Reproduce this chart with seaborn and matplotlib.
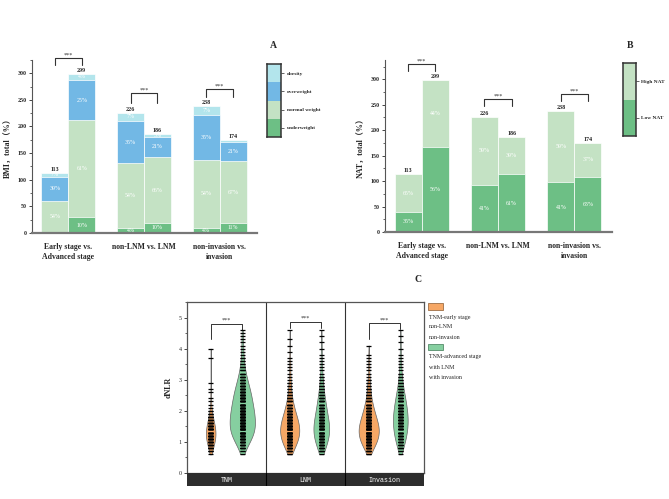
import numpy as np
import pandas as pd
import matplotlib
matplotlib.use('Agg')
import matplotlib.pyplot as plt
import seaborn as sns
from matplotlib.patches import Rectangle
from matplotlib.ticker import MultipleLocator

# ---- data: panels A / B (counts per bar) ----
groups = ['Early stage vs.\nAdvanced stage', 'non-LNM vs. LNM', 'non-invasion vs.\ninvasion']
bar_totals = [113, 299, 226, 186, 238, 174]

bmi_cats = ['underweight', 'normal weight', 'overweight', 'obesity']
underweight = [0, 30, 9, 19, 10, 19]
normal_weight = [61, 182, 122, 123, 128, 116]
overweight = [44, 75, 79, 39, 83, 36]
obesity = [8, 12, 16, 5, 17, 3]

nat_cats = ['Low NAT', 'High NAT']
low_nat = [40, 167, 93, 113, 98, 109]
high_nat = [73, 132, 133, 73, 140, 65]

# ---- data: panel C (dNLR values and how many patients sit at each) ----
facets = ['TNM', 'LNM', 'Invasion']
c_groups = ['early', 'advanced']
dnlr_grid = [0.6, 0.7, 0.8, 0.9, 1.0, 1.1, 1.2, 1.3, 1.4, 1.5, 1.6, 1.7, 1.8, 1.9,
             2.0, 2.1, 2.2, 2.3, 2.4, 2.5, 2.6, 2.7, 2.8, 2.9, 3.0, 3.1, 3.2, 3.3,
             3.4, 3.5, 3.6, 3.7, 3.8, 3.9, 4.0, 4.1, 4.2, 4.3, 4.4, 4.5, 4.6]
tnm_early = [1, 3, 5, 7, 9, 11, 12, 11, 11, 10, 8, 6, 5, 3, 2, 1, 1, 1, 1, 0, 1,
             1, 0, 1, 0, 0, 0, 0, 0, 0, 0, 1, 0, 0, 1, 0, 0, 0, 0, 0, 0]
tnm_adv = [1, 2, 5, 7, 9, 11, 13, 15, 16, 16, 15, 15, 15, 15, 14, 13, 13, 11, 12, 11, 10,
           9, 8, 7, 6, 5, 4, 3, 3, 2, 2, 2, 1, 1, 1, 1, 1, 1, 1, 1, 1]
lnm_no = [2, 5, 8, 11, 13, 15, 16, 17, 17, 16, 15, 14, 12, 10, 9, 7, 6, 5, 4, 3, 3,
          2, 2, 2, 1, 1, 1, 1, 1, 1, 1, 1, 0, 1, 0, 1, 0, 1, 0, 0, 1]
lnm_yes = [1, 4, 6, 8, 9, 10, 11, 12, 12, 12, 11, 10, 9, 8, 8, 7, 6, 6, 5, 4, 4,
           3, 3, 2, 2, 2, 1, 1, 1, 1, 1, 1, 1, 0, 1, 0, 1, 0, 1, 0, 1]
inv_no = [2, 5, 8, 12, 14, 16, 17, 18, 18, 17, 16, 14, 12, 11, 9, 8, 7, 5, 4, 4, 3,
          3, 2, 2, 2, 1, 1, 1, 1, 1, 1, 1, 1, 0, 0, 1, 0, 0, 0, 0, 0]
inv_yes = [1, 2, 4, 5, 6, 7, 8, 9, 9, 9, 10, 10, 10, 9, 9, 8, 8, 7, 6, 6, 5,
           4, 3, 3, 2, 2, 2, 1, 1, 1, 1, 1, 1, 0, 1, 0, 1, 0, 1, 0, 1]

c_orange = '#f6a765'
c_green = '#86cfa0'

sns.set_style('ticks')
plt.rcParams['font.family'] = ['Liberation Serif', 'Noto Sans CJK SC']
plt.rcParams['axes.edgecolor'] = '#555555'

fig = plt.figure(figsize=(6.69, 4.99), dpi=100)


def stacked_panel(ax, layers, names, colors, ylim, ylabel, brackets):
    sides = ['a', 'b'] * 3
    df = pd.DataFrame({'group': np.repeat(groups, 2), 'side': sides})
    cum = np.zeros(6)
    cums = []
    for vals in layers:
        cum = cum + np.array(vals)
        cums.append(cum.copy())
    # draw tallest layer first, smaller layers on top
    for k in range(len(layers) - 1, -1, -1):
        df['v'] = cums[k]
        sns.barplot(data=df, x='group', y='v', hue='side', palette=[colors[k]] * 2,
                    width=0.71, edgecolor='white', linewidth=0.5, saturation=1,
                    errorbar=None, legend=False, ax=ax)
    off = 0.71 / 4
    for i in range(6):
        x = i // 2 + (-off if i % 2 == 0 else off)
        bottom = 0
        for k, vals in enumerate(layers):
            v = vals[i]
            if v >= 5:
                ax.text(x, bottom + v / 2, f'{round(100 * v / bar_totals[i])}%',
                        ha='center', va='center', color='white', fontsize=4.2)
            bottom += v
        ax.text(x, bar_totals[i] + 2, str(bar_totals[i]), ha='center', va='bottom',
                fontsize=4.3, fontweight='bold')
    for gi, (top, l1, l2) in enumerate(brackets):
        ax.plot([gi - off, gi - off, gi + off, gi + off], [l1, top, top, l2],
                color='#333333', lw=0.8, clip_on=False)
        ax.text(gi, top + 1, '***', ha='center', va='bottom', fontsize=4.5, color='#333333')
    ax.set_ylim(*ylim)
    ax.set_xlim(-0.48, 2.49)
    ax.yaxis.set_major_locator(MultipleLocator(50))
    ax.yaxis.set_minor_locator(MultipleLocator(25))
    ax.set_yticks(range(0, 301, 50))
    ax.tick_params(axis='y', which='major', labelsize=4.3, length=2.5, width=0.6, pad=1.5)
    ax.tick_params(axis='y', which='minor', length=1.5, width=0.5)
    ax.tick_params(axis='x', length=0, pad=7)
    ax.set_xticks(range(3))
    ax.set_xticklabels(groups, fontsize=5.6, fontweight='bold', linespacing=1.4)
    for t in ax.get_yticklabels():
        t.set_fontweight('bold')
    ax.set_xlabel('')
    ax.set_ylabel(ylabel, fontsize=5.8, fontweight='bold', labelpad=4)
    sns.despine(ax=ax)
    ax.spines['left'].set_linewidth(0.8)
    ax.spines['bottom'].set_linewidth(1.6)
    ax.spines['bottom'].set_color('#777777')


def block_legend(rect, names, colors):
    lax = fig.add_axes(rect)
    n = len(names)
    sns.barplot(x=[0] * n, y=[1] * n, ax=lax)  # placeholder for axis scale
    for p in list(lax.patches):
        p.remove()
    for k in range(n):
        lax.add_patch(Rectangle((-0.5, k), 1, 1, facecolor=colors[k], edgecolor='none'))
    lax.set_xlim(-0.5, 0.5)
    lax.set_ylim(0, n)
    lax.set_xticks([])
    lax.yaxis.tick_right()
    lax.set_yticks([k + 0.5 for k in range(n)])
    lax.set_yticklabels(names, fontsize=3.9, fontweight='bold')
    lax.tick_params(axis='y', length=2, width=0.5, pad=2)
    lax.set_xlabel('')
    lax.set_ylabel('')
    for s in lax.spines.values():
        s.set_visible(True)
        s.set_color('#333333')
        s.set_linewidth(1.1)


# ---- panel A ----
ax_a = fig.add_axes([0.0478, 0.533, 0.336, 0.347])
bmi_colors = ['#6dbf85', '#c4e2c4', '#72b8e5', '#b3e5ec']
stacked_panel(ax_a, [underweight, normal_weight, overweight, obesity], bmi_cats, bmi_colors,
              (0, 325), 'BMI，total（%）',
              [(328, 315, 315), (262, 245, 245), (270, 255, 255)])
block_legend([0.399, 0.7255, 0.021, 0.146], bmi_cats, bmi_colors)
fig.text(0.408, 0.908, 'A', fontsize=7, fontweight='bold', ha='center', va='center')

# ---- panel B ----
ax_b = fig.add_axes([0.5755, 0.535, 0.339, 0.345])
nat_colors = ['#6dbf85', '#c4e2c4']
stacked_panel(ax_b, [low_nat, high_nat], nat_cats, nat_colors,
              (0, 338), 'NAT，total（%）',
              [(330, 316, 316), (261, 248, 248), (271, 257, 257)])
block_legend([0.931, 0.7275, 0.0195, 0.146], nat_cats, nat_colors)
fig.text(0.9417, 0.908, 'B', fontsize=7, fontweight='bold', ha='center', va='center')

# ---- panel C ----
counts = {('TNM', 'early'): tnm_early, ('TNM', 'advanced'): tnm_adv,
          ('LNM', 'early'): lnm_no, ('LNM', 'advanced'): lnm_yes,
          ('Invasion', 'early'): inv_no, ('Invasion', 'advanced'): inv_yes}
frames = []
for (f, g), cnt in counts.items():
    vals = np.repeat(dnlr_grid, cnt)
    frames.append(pd.DataFrame({'facet': f, 'group': g, 'dNLR': vals}))
df_c = pd.concat(frames, ignore_index=True)

ax_c = fig.add_axes([0.2795, 0.0521, 0.3543, 0.3427])
sns.violinplot(data=df_c, x='facet', y='dNLR', hue='group', order=facets, hue_order=c_groups,
               palette=[c_orange, c_green], density_norm='count', common_norm=True, cut=0,
               inner=None, linewidth=0.5, linecolor='#666666', gap=0.2, width=0.8,
               saturation=1, legend=False, ax=ax_c)
sns.stripplot(data=df_c, x='facet', y='dNLR', hue='group', order=facets, hue_order=c_groups,
              palette=['black', 'black'], dodge=True, jitter=False, marker='_', size=4,
              linewidth=0.9, legend=False, ax=ax_c)
c_brackets = [(4.8, 4.3, 4.6), (4.87, 4.65, 4.65), (4.83, 4.3, 4.62)]
for gi, (top, l1, l2) in enumerate(c_brackets):
    ax_c.plot([gi - 0.2, gi - 0.2, gi + 0.2, gi + 0.2], [l1, top, top, l2],
              color='#333333', lw=0.7)
    ax_c.text(gi, top + 0.02, '***', ha='center', va='bottom', fontsize=4.5, color='#333333')
for xv in [0.5, 1.5]:
    ax_c.axvline(xv, color='#333333', lw=0.8)
ax_c.set_xlim(-0.5, 2.5)
ax_c.set_ylim(0, 5.5)
ax_c.set_yticks(range(6))
ax_c.yaxis.set_minor_locator(MultipleLocator(0.5))
ax_c.tick_params(axis='y', which='major', labelsize=4.3, length=2.5, width=0.6, pad=1.5)
ax_c.tick_params(axis='y', which='minor', length=1.5, width=0.5)
ax_c.set_xticks([])
ax_c.set_xlabel('')
ax_c.set_ylabel('dNLR', fontsize=5.8, fontweight='bold', labelpad=4)
for s in ax_c.spines.values():
    s.set_visible(True)
    s.set_linewidth(0.9)
    s.set_color('#555555')

sax = fig.add_axes([0.2795, 0.0261, 0.3543, 0.026])
sax.set_facecolor('#2d2d2d')
sax.set_xlim(-0.5, 2.5)
sax.set_ylim(0, 1)
sax.set_xticks([])
sax.set_yticks([])
for s in sax.spines.values():
    s.set_visible(False)
for i, f in enumerate(facets):
    sax.text(i, 0.45, f, color='white', ha='center', va='center', fontsize=4.8,
             family='Liberation Mono')
for xv in [0.5, 1.5]:
    sax.axvline(xv, color='black', lw=0.8)

fig.text(0.6248, 0.4389, 'C', fontsize=7, fontweight='bold', ha='center', va='center')

# legend C
fig.patches.append(Rectangle((0.6398, 0.3788), 0.0224, 0.014, facecolor=c_orange,
                             edgecolor='#8a5a30', lw=0.5, transform=fig.transFigure))
fig.patches.append(Rectangle((0.6398, 0.2986), 0.0224, 0.012, facecolor=c_green,
                             edgecolor='#3f7a55', lw=0.5, transform=fig.transFigure))
leg_lines = [('TNM-early stage', 0.3647), ('non-LNM', 0.3447), ('non-invasion', 0.3246),
             ('TNM-advanced stage', 0.2846), ('with LNM', 0.2645), ('with invasion', 0.2425)]
for txt, yy in leg_lines:
    fig.text(0.6413, yy, txt, fontsize=4.3, ha='left', va='center', color='#222222')

fig.savefig('out.png', dpi=100)
